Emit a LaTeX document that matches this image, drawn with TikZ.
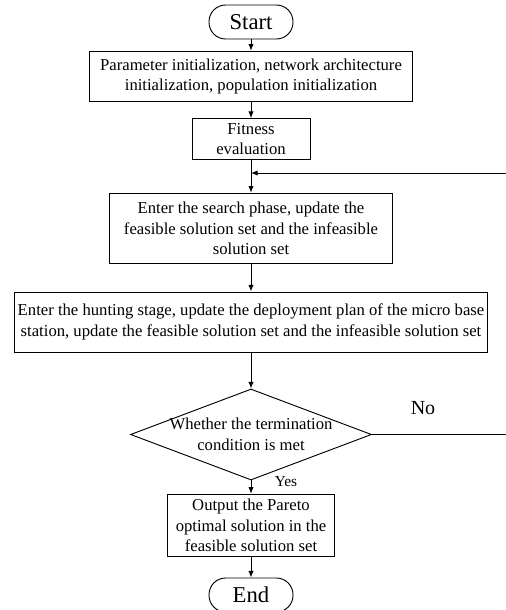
\documentclass[tikz,border=0pt]{standalone}
\usepackage{fontspec}
\setmainfont{Liberation Serif}
\usetikzlibrary{arrows.meta,shapes.geometric}
\begin{document}
\begin{tikzpicture}[x=0.75pt,y=-0.75pt,
    box/.style={draw,line width=0.7pt,align=center,inner xsep=2pt,
      font=\fontsize{12.5}{15.5}\selectfont},
    terminal/.style={draw,line width=0.7pt,rounded corners=12.5pt,
      minimum width=63pt,minimum height=25.5pt,font=\fontsize{17}{20}\selectfont},
    decision/.style={draw,line width=0.7pt,diamond,aspect=2.65,inner sep=0pt,
      minimum width=180.75pt,minimum height=68.25pt},
    arr/.style={line width=0.7pt,-{Latex[length=5pt,width=4pt]}}]
    \def\cx{251}
    \useasboundingbox (0,0) rectangle (506,610);
    \node [terminal] (start) at (\cx,22) {Start};
    \node [box,minimum width=242pt,minimum height=38pt] (init) at (\cx,76.5)
      {Parameter initialization, network architecture\\initialization, population initialization};
    \node [box,minimum width=88.5pt,minimum height=27pt] (fitness) at (\cx,139) {Fitness\\evaluation};
    \node [box,minimum width=212pt,minimum height=53pt] (search) at (\cx,228.5)
      {Enter the search phase, update the\\feasible solution set and the infeasible\\solution set};
    \node [box,minimum width=355pt,minimum height=45pt] (hunt) at (\cx,322)
      {Enter the hunting stage, update the deployment plan of the micro base\\station, update the feasible solution set and the infeasible solution set};
    \node [decision,label={[align=center,font=\fontsize{12.5}{15.5}\selectfont]center:Whether the termination\\condition is met}] (check) at (\cx,434.5) {};
    \node [box,minimum width=125pt,minimum height=47pt] (output) at (\cx,525.5)
      {Output the Pareto\\optimal solution in the\\feasible solution set};
    \node [terminal] (end) at (\cx,595) {End};
    \node [font=\fontsize{15}{18}\selectfont] (nolabel) at (423,408) {No};
    \node [font=\fontsize{11.5}{14}\selectfont] (yeslabel) at (286,482) {Yes};
    \coordinate (loopR) at (520,434.5);
    \coordinate (merge) at (\cx,173);
    \draw [arr] (start) -- (init);
    \draw [arr] (init) -- (fitness);
    \draw [arr] (fitness) -- (search);
    \draw [arr] (search) -- (hunt);
    \draw [arr] (hunt) -- (check);
    \draw [arr] (check) -- (output);
    \draw [arr] (output) -- (end);
    \draw [arr] (check.east) -- (loopR) |- (merge);
\end{tikzpicture}
\end{document}
